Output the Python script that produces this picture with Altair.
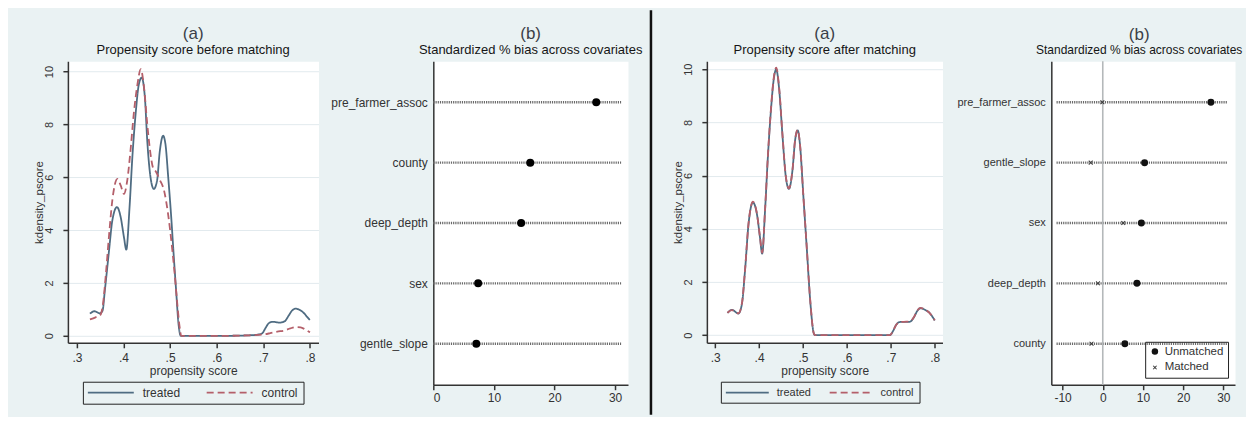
import altair as alt
import pandas as pd

FONT = "Liberation Sans"
BG = "#eaf2f3"
TREATED = "#4f6c82"
CONTROL = "#b45f6a"
INK = "#333333"

# ---------------- (a) Propensity score before matching ----------------
before_treated_x = [0.328, 0.338, 0.349, 0.355, 0.360, 0.369, 0.376, 0.386, 0.394, 0.401, 0.406,
                    0.413, 0.419, 0.426, 0.433, 0.439, 0.446, 0.451, 0.458, 0.465, 0.472, 0.478,
                    0.485, 0.490, 0.496, 0.502, 0.508, 0.513, 0.518, 0.523, 0.560, 0.620, 0.670,
                    0.690, 0.698, 0.705, 0.712, 0.720, 0.735, 0.746, 0.754, 0.762, 0.770, 0.778,
                    0.786, 0.794, 0.800]
before_treated_y = [0.84, 0.93, 0.85, 0.95, 1.72, 3.23, 4.36, 4.87, 4.49, 3.73, 3.26,
                    4.87, 6.75, 8.39, 9.52, 9.77, 9.00, 7.38, 6.00, 5.56, 5.87, 7.00,
                    7.57, 7.26, 6.00, 4.60, 2.98, 1.70, 0.46, 0.00, 0.00, 0.00, 0.02,
                    0.05, 0.10, 0.30, 0.48, 0.53, 0.50, 0.55, 0.75, 0.96, 1.03, 0.98,
                    0.88, 0.72, 0.60]
before_control_x = [0.328, 0.340, 0.350, 0.356, 0.362, 0.369, 0.376, 0.387, 0.394, 0.401, 0.408,
                    0.415, 0.422, 0.430, 0.437, 0.444, 0.451, 0.458, 0.463, 0.470, 0.478, 0.487,
                    0.495, 0.502, 0.509, 0.515, 0.520, 0.524, 0.560, 0.620, 0.670, 0.700, 0.715,
                    0.730, 0.745, 0.758, 0.770, 0.780, 0.790, 0.800]
before_control_y = [0.62, 0.70, 0.78, 1.20, 2.30, 3.80, 5.12, 5.94, 5.69, 5.37, 5.87,
                    7.00, 8.39, 9.52, 10.09, 9.40, 8.01, 6.88, 6.38, 6.20, 5.90, 5.50,
                    4.70, 3.70, 2.50, 1.30, 0.40, 0.00, 0.00, 0.00, 0.02, 0.05, 0.10,
                    0.16, 0.20, 0.28, 0.33, 0.32, 0.24, 0.13]

# ---------------- (a) Propensity score after matching ----------------
after_treated_x = [0.328, 0.338, 0.353, 0.361, 0.368, 0.376, 0.386, 0.395, 0.402, 0.407, 0.414,
                   0.420, 0.427, 0.433, 0.439, 0.446, 0.453, 0.461, 0.468, 0.476, 0.482, 0.488,
                   0.493, 0.501, 0.508, 0.517, 0.524, 0.527, 0.600, 0.660, 0.698, 0.705, 0.712,
                   0.720, 0.730, 0.743, 0.752, 0.760, 0.767, 0.778, 0.790, 0.800]
after_treated_y = [0.83, 0.95, 0.81, 1.18, 2.43, 4.18, 4.99, 4.56, 3.68, 3.06, 4.81,
                   6.69, 8.45, 9.57, 9.99, 9.20, 7.57, 5.94, 5.50, 6.19, 7.32, 7.70,
                   7.19, 5.19, 3.43, 1.18, 0.10, 0.00, 0.00, 0.00, 0.00, 0.15, 0.38,
                   0.49, 0.50, 0.50, 0.65, 0.90, 1.01, 0.95, 0.80, 0.55]
after_control_x = [0.328, 0.338, 0.353, 0.361, 0.368, 0.376, 0.386, 0.395, 0.402, 0.407, 0.414,
                   0.420, 0.427, 0.433, 0.439, 0.446, 0.453, 0.461, 0.468, 0.476, 0.482, 0.488,
                   0.493, 0.501, 0.508, 0.517, 0.524, 0.527, 0.600, 0.660, 0.698, 0.705, 0.712,
                   0.720, 0.730, 0.743, 0.752, 0.760, 0.767, 0.778, 0.790, 0.800]
after_control_y = [0.84, 0.94, 0.82, 1.20, 2.45, 4.20, 5.02, 4.58, 3.70, 3.10, 4.83,
                   6.72, 8.50, 9.62, 10.06, 9.25, 7.60, 5.96, 5.52, 6.20, 7.34, 7.72,
                   7.20, 5.20, 3.45, 1.20, 0.10, 0.00, 0.00, 0.00, 0.00, 0.15, 0.38,
                   0.49, 0.50, 0.51, 0.66, 0.91, 1.02, 0.96, 0.80, 0.56]

# ---------------- (b) Standardized % bias ----------------
before_vars = ["pre_farmer_assoc", "county", "deep_depth", "sex", "gentle_slope"]
before_unmatched = [26.9, 16.0, 14.5, 7.4, 7.1]

after_vars = ["pre_farmer_assoc", "gentle_slope", "sex", "deep_depth", "county"]
after_unmatched = [26.9, 10.4, 9.6, 8.5, 5.5]
after_matched = [-0.1, -3.0, 5.1, -1.2, -2.8]

groups = ["treated", "control"]
sample_types = ["Unmatched", "Matched"]
score_ticks = [0.3, 0.4, 0.5, 0.6, 0.7, 0.8]
density_ticks = [0, 2, 4, 6, 8, 10]
bias_ticks_before = [0, 10, 20, 30]
bias_ticks_after = [-10, 0, 10, 20, 30]

# filled "x" marker used for the matched sample
XMARK = ("M-0.65,-0.45L-0.45,-0.65L0,-0.2L0.45,-0.65L0.65,-0.45L0.2,0L0.65,0.45"
         "L0.45,0.65L0,0.2L-0.45,0.65L-0.65,0.45L-0.2,0Z")
PLAIN = alt.ViewBackground(fill="white", stroke="transparent")
NOVIEW = alt.ViewBackground(fill="transparent", stroke="transparent")
HYPHEN_LABEL = "datum.value < 0 ? '-' + abs(datum.value) : '' + datum.value"


def density_panel(tx, ty, cx, cy, subtitle, xdom, ydom, w, h, leg):
    treated = pd.DataFrame({"score": tx, "density": ty, "group": "treated"})
    control = pd.DataFrame({"score": cx, "density": cy, "group": "control"})
    x = alt.X("score:Q", scale=alt.Scale(domain=xdom, nice=False, zero=False),
              axis=alt.Axis(values=score_ticks, labelExpr="substring(format(datum.value, '.1f'), 1)",
                            title="propensity score", labelPadding=5, titleY=23,
                            titleBaseline="top"))
    y = alt.Y("density:Q", scale=alt.Scale(domain=ydom, nice=False, zero=False),
              axis=alt.Axis(values=density_ticks, format="d", labelAngle=270, labelAlign="center",
                            labelBaseline="bottom", labelPadding=8, labelFontSize=11,
                            title="kdensity_pscore", titleX=-23, titleFontSize=11.5,
                            grid=True, gridColor="#e2eaee", gridWidth=1))
    color = alt.Color("group:N", scale=alt.Scale(domain=groups, range=[TREATED, CONTROL]), legend=leg)
    dash = alt.StrokeDash("group:N", scale=alt.Scale(domain=groups, range=[[1, 0], [7, 4]]), legend=leg)

    def line(df):
        return alt.Chart(df).mark_line(strokeWidth=1.8, interpolate="monotone").encode(
            x=x, y=y, color=color, strokeDash=dash)

    return alt.layer(line(treated), line(control)).properties(
        width=w, height=h, view=PLAIN,
        title=alt.TitleParams("(a)", subtitle=subtitle))


def line_legend(lx, ly, half, sym_offset, label_offset, colpad, font_size):
    return alt.Legend(orient="none", legendX=lx, legendY=ly, direction="horizontal",
                      title=None, strokeColor="#222222", padding=5,
                      symbolType=f"M-{half},0L{half},0", symbolSize=100, symbolStrokeWidth=1.8,
                      symbolOffset=sym_offset, labelOffset=label_offset, columnPadding=colpad,
                      labelFontSize=font_size, labelColor=INK, labelFont=FONT)


def bias_panel(vars_, unmatched, matched, xdom, ticks, lo, hi, w, h, label_size, leg_pos,
               sub_size, sub_dx):
    rows = pd.DataFrame({"variable": vars_})
    y = alt.Y("variable:N", sort=vars_, scale=alt.Scale(type="point", padding=0.68),
              axis=alt.Axis(title=None, ticks=False, labelPadding=6, labelFontSize=label_size))
    xscale = alt.Scale(domain=xdom, nice=False, zero=False)
    xaxis = alt.Axis(values=ticks, title=None, labelExpr=HYPHEN_LABEL, labelPadding=3)
    dotted = alt.Chart(rows).mark_rule(strokeDash=[1.2, 1], strokeWidth=2.4, color="#6a6a6a").encode(
        y=y, x=alt.X(datum=lo, type="quantitative", scale=xscale, axis=xaxis), x2=alt.X2(datum=hi))
    layers = [dotted]
    if matched is None:
        pts = pd.DataFrame({"variable": vars_, "bias": unmatched})
        layers.append(alt.Chart(pts).mark_point(filled=True, color="#000000", size=64, opacity=1).encode(
            y=y, x=alt.X("bias:Q", scale=xscale, axis=xaxis)))
    else:
        ref = pd.DataFrame({"ref": [0]})
        layers.append(alt.Chart(ref).mark_rule(color="#b4b8ba", strokeWidth=1.6).encode(
            x=alt.X("ref:Q", scale=xscale, axis=xaxis)))
        pts = pd.DataFrame({"variable": vars_ + vars_, "bias": unmatched + matched,
                            "type": ["Unmatched"] * len(vars_) + ["Matched"] * len(vars_)})
        leg = alt.Legend(orient="none", legendX=leg_pos[0], legendY=leg_pos[1], title=None,
                         strokeColor="#222222", padding=4, labelFontSize=11.5, labelOffset=4,
                         rowPadding=3, symbolSize=42, symbolStrokeWidth=0,
                         labelColor=INK, labelFont=FONT)
        layers.append(alt.Chart(pts).mark_point(filled=True, size=49, opacity=1).encode(
            y=y, x=alt.X("bias:Q", scale=xscale, axis=xaxis),
            shape=alt.Shape("type:N", scale=alt.Scale(domain=sample_types, range=["circle", XMARK]), legend=leg),
            color=alt.Color("type:N", scale=alt.Scale(domain=sample_types, range=["#111111", "#3c3c3c"]), legend=leg)))
    return alt.layer(*layers).properties(
        width=w, height=h, view=PLAIN,
        title=alt.TitleParams("(b)", subtitle="Standardized % bias across covariates",
                              subtitleFontSize=sub_size, dx=sub_dx))


def spacer(w):
    return alt.Chart(pd.DataFrame({"s": [0]})).mark_point(opacity=0).encode(
        x=alt.value(0), y=alt.value(0)).properties(width=w, height=10, view=NOVIEW)


# divider between "before" and "after" halves, plus the canvas extent
divider = alt.layer(
    alt.Chart(pd.DataFrame({"s": [0]})).mark_rule(strokeOpacity=0, opacity=0).encode(
        x=alt.value(-620), x2=alt.value(618), y=alt.value(-51), y2=alt.value(354)),
    alt.Chart(pd.DataFrame({"s": [0]})).mark_rule(color="#111111", strokeWidth=2.5).encode(
        x=alt.value(23), y=alt.value(-51), y2=alt.value(354)),
).properties(width=79, height=324, view=NOVIEW)

a1 = density_panel(before_treated_x, before_treated_y, before_control_x, before_control_y,
                   "Propensity score before matching", [0.2807, 0.8185], [-0.264, 10.39],
                   251, 282, line_legend(15, 321, 4.6, 17, 26, 22, 12))
b1 = bias_panel(before_vars, before_unmatched, None, [0, 32.14], bias_ticks_before,
                0, 31, 195, 324, 12, None, 13, 0)
a2 = density_panel(after_treated_x, after_treated_y, after_control_x, after_control_y,
                   "Propensity score after matching", [0.2811, 0.8177], [-0.29, 10.3],
                   236, 282, line_legend(14, 321, 4.3, 15.5, 23.5, 14, 11))
b2 = bias_panel(after_vars, after_unmatched, after_matched, [-12.8, 32.9], bias_ticks_after,
                -11.5, 31, 184, 324, 11, (94, 281), 12, -4)

chart = alt.hconcat(a1, spacer(115), b1, divider, a2, spacer(109), b2,
                    spacing=0, bounds="flush").resolve_scale(
    color="independent", strokeDash="independent", shape="independent"
).resolve_legend(
    color="independent", strokeDash="independent", shape="independent"
).properties(padding=0).configure(
    background=BG, font=FONT
).configure_axis(
    domainColor="#333333", domainWidth=1.5, tickColor="#333333", tickWidth=1.5, tickSize=5,
    labelColor=INK, titleColor=INK, labelFont=FONT, titleFont=FONT, titleFontWeight="normal",
    labelFontSize=12, titleFontSize=12, grid=False
).configure_title(
    font=FONT, fontSize=17, fontWeight="normal", color="#3a3f48", subtitleFont=FONT,
    subtitleFontSize=13, subtitleColor="#151515", subtitleFontWeight="normal",
    anchor="middle", frame="group", offset=3, subtitlePadding=1
).configure_legend(labelFont=FONT)

chart.save("out.html", embed_options={"renderer": "svg", "actions": False})
